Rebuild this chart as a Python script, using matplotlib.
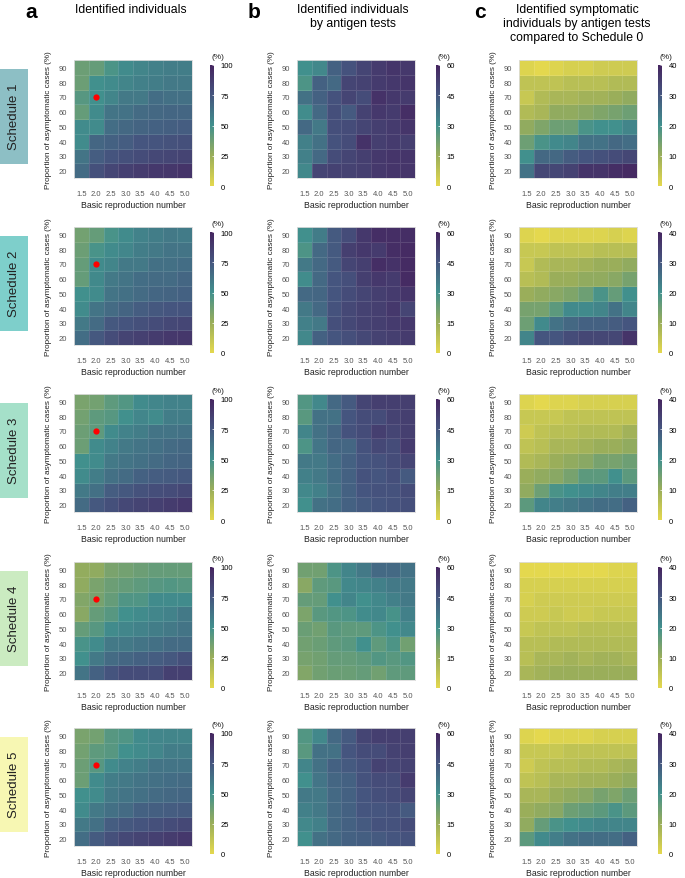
import numpy as np
import matplotlib
matplotlib.use("Agg")
import matplotlib.pyplot as plt
from matplotlib.patches import Rectangle
from matplotlib.colors import Normalize, LinearSegmentedColormap

R0 = [1.5, 2.0, 2.5, 3.0, 3.5, 4.0, 4.5, 5.0]
ASYM = [20, 30, 40, 50, 60, 70, 80, 90]
schedules = ["Schedule 1", "Schedule 2", "Schedule 3", "Schedule 4", "Schedule 5"]
schedule_colors = ["#8DBFC5", "#7ECFCB", "#A5E0C9", "#CBEBC1", "#F7F7B3"]
col_titles = ["Identified individuals",
              "Identified individuals\nby antigen tests",
              "Identified symptomatic\nindividuals by antigen tests\ncompared to Schedule 0"]
col_letters = ["a", "b", "c"]
col_vmax = [100, 60, 40]
col_ticks = [[0, 25, 50, 75, 100], [0, 15, 30, 45, 60], [0, 10, 20, 30, 40]]

# rows listed from asymptomatic 90 (top) down to 20 (bottom)
a1 = [[38, 40, 47, 52, 55, 57, 58, 58],
      [38, 50, 52, 55, 57, 58, 60, 60],
      [44, 50, 55, 60, 60, 65, 64, 64],
      [40, 52, 62, 63, 66, 67, 68, 68],
      [52, 52, 65, 67, 69, 70, 71, 72],
      [52, 68, 70, 72, 75, 76, 77, 78],
      [62, 72, 76, 78, 80, 82, 83, 84],
      [66, 78, 83, 86, 88, 90, 91, 92]]
b1 = [[30, 32, 42, 46, 50, 53, 55, 54],
      [28, 42, 40, 50, 51, 53, 54, 55],
      [38, 42, 46, 50, 48, 56, 54, 53],
      [31, 40, 47, 44, 51, 54, 53, 57],
      [40, 36, 47, 48, 50, 52, 53, 55],
      [34, 38, 46, 48, 56, 52, 53, 52],
      [34, 40, 48, 50, 52, 54, 55, 55],
      [32, 50, 51, 51, 52, 54, 55, 55]]
c1 = [[1, 0, 1, 2, 2, 3, 3, 3],
      [5, 5, 5, 6, 6, 6, 7, 7],
      [4, 7, 8, 8, 9, 9, 10, 11],
      [7, 8, 11, 11, 12, 13, 14, 15],
      [11, 13, 15, 15, 19, 20, 20, 22],
      [15, 19, 21, 22, 25, 25, 27, 26],
      [20, 27, 27, 29, 30, 31, 32, 33],
      [25, 33, 33, 34, 37, 37, 38, 39]]
a2 = [[36, 40, 48, 52, 56, 58, 60, 59],
      [38, 48, 52, 54, 58, 60, 62, 62],
      [40, 52, 55, 60, 60, 64, 64, 65],
      [40, 53, 60, 62, 65, 66, 66, 68],
      [50, 52, 62, 64, 66, 68, 69, 70],
      [52, 62, 66, 69, 72, 74, 75, 76],
      [60, 66, 74, 76, 78, 80, 82, 83],
      [65, 74, 80, 84, 86, 88, 90, 91]]
b2 = [[30, 35, 44, 48, 54, 57, 57, 57],
      [28, 40, 44, 52, 54, 53, 57, 58],
      [36, 40, 44, 50, 52, 57, 56, 58],
      [31, 40, 45, 47, 52, 54, 53, 58],
      [40, 41, 45, 48, 50, 52, 53, 55],
      [36, 40, 46, 49, 51, 52, 54, 50],
      [34, 36, 47, 49, 51, 52, 53, 54],
      [32, 42, 45, 47, 49, 51, 52, 53]]
c2 = [[1, 0, 1, 1, 1, 1, 2, 1],
      [4, 4, 5, 5, 5, 6, 6, 6],
      [4, 7, 8, 8, 9, 10, 10, 11],
      [6, 7, 10, 10, 11, 11, 12, 14],
      [10, 11, 12, 13, 15, 19, 16, 20],
      [14, 14, 17, 21, 21, 22, 25, 22],
      [15, 21, 25, 27, 28, 28, 29, 30],
      [22, 30, 30, 32, 33, 33, 33, 37]]
a3 = [[34, 36, 42, 45, 52, 54, 56, 56],
      [36, 42, 44, 50, 54, 52, 58, 58],
      [38, 42, 52, 56, 58, 62, 62, 63],
      [38, 52, 56, 60, 62, 64, 66, 67],
      [50, 52, 60, 62, 64, 66, 68, 69],
      [52, 58, 64, 66, 70, 72, 73, 74],
      [60, 64, 72, 74, 77, 79, 80, 82],
      [66, 74, 78, 82, 84, 86, 88, 90]]
b3 = [[27, 32, 40, 44, 50, 52, 52, 52],
      [26, 38, 38, 45, 48, 48, 51, 52],
      [33, 38, 41, 46, 48, 52, 50, 52],
      [28, 37, 41, 41, 46, 49, 48, 53],
      [36, 36, 39, 42, 45, 46, 48, 50],
      [34, 36, 39, 42, 46, 45, 47, 44],
      [32, 34, 38, 42, 45, 46, 46, 48],
      [30, 38, 39, 42, 44, 45, 46, 47]]
c3 = [[1, 0, 1, 1, 2, 2, 2, 2],
      [4, 4, 4, 5, 5, 5, 5, 5],
      [3, 5, 6, 6, 7, 7, 7, 9],
      [5, 6, 8, 8, 9, 10, 10, 11],
      [7, 8, 10, 11, 12, 14, 14, 15],
      [10, 11, 12, 14, 17, 17, 20, 17],
      [11, 15, 19, 20, 21, 22, 23, 23],
      [17, 22, 23, 24, 25, 26, 26, 28]]
a4 = [[27, 28, 34, 36, 38, 40, 40, 40],
      [28, 34, 38, 40, 42, 44, 45, 44],
      [32, 35, 40, 46, 46, 52, 52, 52],
      [30, 40, 44, 50, 52, 54, 56, 60],
      [40, 44, 52, 54, 56, 58, 60, 62],
      [48, 52, 60, 60, 62, 64, 66, 66],
      [50, 60, 66, 68, 70, 72, 74, 78],
      [62, 70, 76, 80, 80, 80, 86, 86]]
b4 = [[22, 22, 28, 33, 36, 40, 40, 38],
      [18, 25, 26, 32, 33, 34, 36, 36],
      [24, 24, 30, 33, 30, 32, 34, 36],
      [20, 26, 27, 28, 31, 32, 29, 34],
      [23, 22, 26, 25, 25, 28, 30, 32],
      [22, 23, 25, 26, 30, 25, 28, 22],
      [21, 22, 24, 24, 25, 27, 26, 27],
      [19, 22, 23, 23, 24, 22, 25, 25]]
c4 = [[0, 0, 0, 0, 0, 0, 1, 1],
      [2, 2, 2, 2, 2, 2, 2, 2],
      [2, 3, 3, 3, 3, 3, 3, 3],
      [3, 3, 4, 3, 3, 4, 4, 4],
      [4, 5, 5, 5, 6, 6, 6, 6],
      [6, 6, 7, 7, 7, 7, 7, 7],
      [6, 8, 8, 9, 8, 9, 9, 8],
      [8, 9, 10, 10, 10, 10, 10, 10]]
a5 = [[34, 36, 44, 46, 52, 54, 55, 55],
      [36, 42, 44, 50, 52, 54, 58, 58],
      [38, 44, 52, 56, 58, 62, 62, 62],
      [38, 52, 58, 60, 62, 64, 65, 66],
      [50, 52, 60, 62, 64, 66, 67, 68],
      [52, 60, 64, 66, 70, 71, 72, 73],
      [60, 64, 72, 74, 76, 78, 80, 82],
      [65, 73, 78, 82, 84, 86, 88, 90]]
b5 = [[27, 32, 40, 44, 50, 52, 52, 52],
      [26, 38, 38, 45, 48, 48, 51, 52],
      [33, 38, 42, 44, 46, 51, 50, 51],
      [30, 37, 41, 42, 46, 48, 48, 53],
      [36, 36, 40, 42, 45, 47, 48, 50],
      [34, 36, 40, 42, 45, 45, 46, 44],
      [32, 34, 40, 42, 44, 46, 46, 48],
      [30, 38, 40, 42, 43, 44, 45, 46]]
c5 = [[1, 0, 1, 1, 1, 2, 2, 2],
      [4, 4, 4, 5, 5, 5, 5, 5],
      [3, 5, 6, 6, 7, 7, 8, 9],
      [5, 6, 8, 8, 9, 9, 10, 11],
      [8, 8, 10, 11, 12, 14, 13, 15],
      [10, 11, 12, 15, 16, 17, 19, 17],
      [11, 16, 19, 20, 21, 22, 22, 22],
      [17, 21, 23, 25, 26, 26, 26, 28]]

data = [[a1, b1, c1], [a2, b2, c2], [a3, b3, c3], [a4, b4, c4], [a5, b5, c5]]
marker_point = (2.0, 70)

W, H = 685, 879
plt.rcParams['font.family'] = ['Liberation Sans', 'DejaVu Sans']
fig = plt.figure(figsize=(W / 100, H / 100), dpi=100)

# muted yellow -> olive -> teal -> slate -> purple gradient (as in the reference colour bar)
cmap = LinearSegmentedColormap.from_list(
    "muted_viridis_r",
    ["#E4D84E", "#9AAE5A", "#41908D", "#45567F", "#45255F"])

heat_x = [74, 297, 519]
cbar_x = [210, 436, 658]
row_top = [61, 228, 395, 563, 729]
hs = 118


def fx(px):
    return px / W


def fy(py):
    return 1 - py / H


xe = np.concatenate([[R0[0] - 0.25], np.array(R0) + 0.25])
ye = np.concatenate([[ASYM[0] - 5], np.array(ASYM) + 5])

for r in range(5):
    top = row_top[r]
    for c in range(3):
        ax = fig.add_axes([fx(heat_x[c]), fy(top + hs), hs / W, hs / H])
        Z = np.array(data[r][c], dtype=float)[::-1]  # bottom row = 20
        norm = Normalize(0, col_vmax[c])
        mesh = ax.pcolormesh(xe, ye, Z, cmap=cmap, norm=norm,
                             edgecolors=(1, 1, 1, 0.12), linewidth=0.6)
        ax.set_xlim(xe[0], xe[-1])
        ax.set_ylim(ye[0], ye[-1])
        ax.set_xticks(R0)
        ax.set_xticklabels([f"{v:.1f}" for v in R0])
        ax.set_yticks(ASYM)
        ax.tick_params(axis='x', length=0, labelsize=5.5, labelcolor='#555555', pad=8.5)
        ax.tick_params(axis='y', length=0, labelsize=5.5, labelcolor='#555555', pad=5)
        for s in ax.spines.values():
            s.set_color('#dddddd')
            s.set_linewidth(0.6)
        ax.set_xlabel("Basic reproduction number", fontsize=6.3, color='#222222', labelpad=2)
        ax.set_ylabel("Proportion of asymptomatic cases (%)", fontsize=5.9, color='#222222',
                      labelpad=5)
        if c == 0:
            ax.plot([marker_point[0]], [marker_point[1]], 'o', color='red', ms=4.5, mec='none')
        # colorbar
        cax = fig.add_axes([fx(cbar_x[c]), fy(top + 126), 4 / W, 121 / H])
        cb = fig.colorbar(mesh, cax=cax, ticks=col_ticks[c])
        cb.outline.set_visible(False)
        cax.tick_params(labelsize=5.5, length=1.5, color='white', direction='in', pad=5, width=0.5)
        cax.text(0.5, 1.04, "(%)", transform=cax.transAxes, fontsize=6, ha='left',
                 va='bottom', color='#222222')
    # schedule box
    fig.patches.append(Rectangle((0, fy(top + 104)), 28 / W, 95 / H,
                                 transform=fig.transFigure, facecolor=schedule_colors[r],
                                 edgecolor='none', zorder=0))
    fig.text(fx(14), fy(top + 56), schedules[r], rotation=90, fontsize=9.5,
             ha='center', va='center', color='#222222')

letter_x = [31, 254, 480]
title_x = [131, 353, 577]
for c in range(3):
    fig.text(fx(letter_x[c]), fy(12), col_letters[c], fontsize=15, fontweight='bold',
             ha='center', va='center')
    fig.text(fx(title_x[c]), fy(4), col_titles[c], fontsize=8.8, ha='center', va='top',
             linespacing=1.2)

fig.savefig("out.png", dpi=100)
